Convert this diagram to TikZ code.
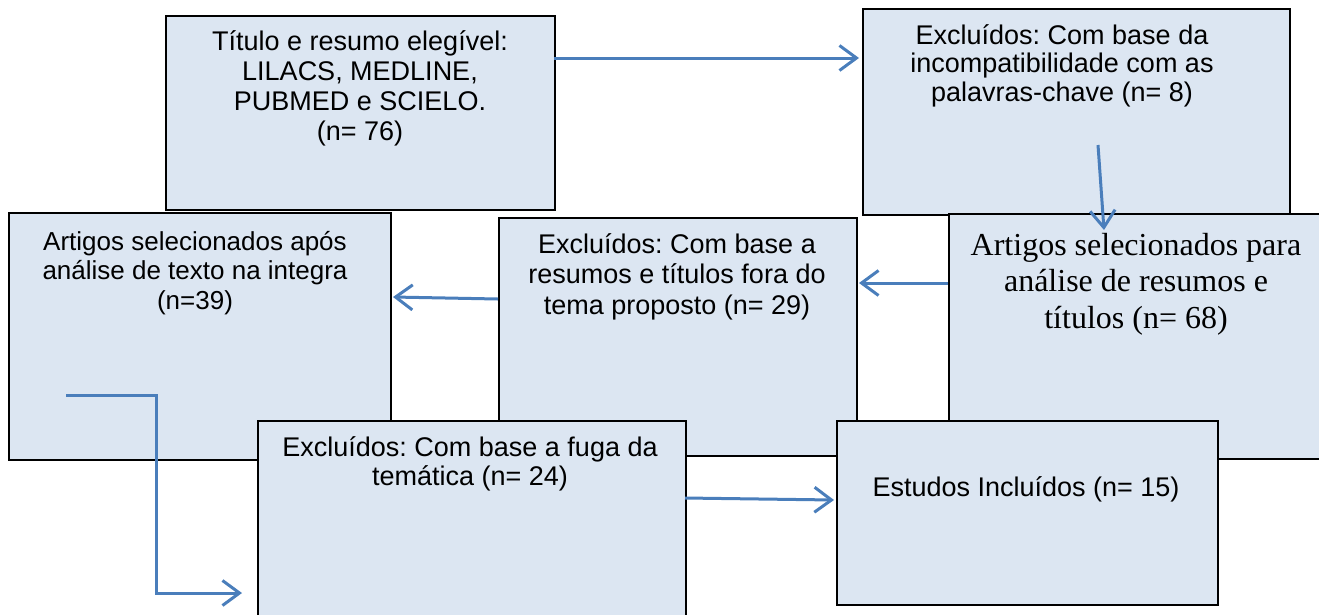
\documentclass[tikz,border=0pt]{standalone}
\usepackage{fontspec}
\setmainfont{Liberation Sans}
\newfontfamily\seriff{Liberation Serif}
\usetikzlibrary{arrows.meta}
\definecolor{boxfill}{HTML}{DCE6F2}
\definecolor{arrowblue}{HTML}{4A7EBB}
\frenchspacing
\begin{document}
\begin{tikzpicture}[x=1pt,y=-1pt,
  box/.style={draw=black, line width=2pt, fill=boxfill, anchor=north west, inner sep=0pt},
  lbl/.style={anchor=base, inner sep=0pt},
  conn/.style={draw=arrowblue, line width=3pt, -{Straight Barb[length=17pt,width=25pt]}}]
\useasboundingbox (0,0) rectangle (1319,614);
\newcommand{\sanstxt}[3][27]{\parbox[t]{420pt}{\centering\frenchspacing\fontsize{#1}{#2}\selectfont #3}}
% boxes
\node[box, minimum width=389pt, minimum height=194pt] (b1) at (165,15) {};
\node[box, minimum width=427pt, minimum height=206pt] (b2) at (862,8) {};
\node[box, minimum width=382pt, minimum height=247pt] (b3) at (8,212) {};
\node[box, minimum width=358pt, minimum height=238pt] (b4) at (498,217) {};
\node[box, minimum width=380pt, minimum height=245pt] (b5) at (948,213) {};
\node[box, minimum width=428pt, minimum height=200pt] (b6) at (257,420) {};
\node[box, minimum width=381pt, minimum height=184pt] (b7) at (836,420) {};
% labels
\node[lbl] (t1) at (360,50) {\sanstxt{30}{Título e resumo elegível:\\LILACS, MEDLINE,\\PUBMED e SCIELO.\\(n= 76)}};
\node[lbl] (t2) at (1062,44) {\sanstxt{28.5}{Excluídos: Com base da\\incompatibilidade com as\\palavras-chave (n= 8)}};
\node[lbl] (t3) at (195,250) {\sanstxt[26]{29.5}{Artigos selecionados após\\análise de texto na integra\\(n=39)}};
\node[lbl] (t4) at (677,253) {\sanstxt{30.5}{Excluídos: Com base a\\resumos e títulos fora do\\tema proposto (n= 29)}};
\node[lbl] (t5) at (1136,255) {\parbox[t]{420pt}{\centering\seriff\fontsize{32}{36.5}\selectfont Artigos selecionados para\\análise de resumos e\\títulos (n= 68)}};
\node[lbl] (t6) at (470,456) {\sanstxt{29}{Excluídos: Com base a fuga da\\temática (n= 24)}};
\node[lbl] (t7) at (1026,496) {\sanstxt{30}{Estudos Incluídos (n= 15)}};
% connector end points
\coordinate (a1s) at (554,58);  \coordinate (a1e) at (859,58);
\coordinate (a2s) at (1098,145); \coordinate (a2e) at (1104,230);
\coordinate (a3s) at (948,283); \coordinate (a3e) at (859,283);
\coordinate (a4s) at (498,299); \coordinate (a4e) at (393,297);
\coordinate (a5s) at (66,395);  \coordinate (a5m) at (156,395); \coordinate (a5e) at (242,593);
\coordinate (a6s) at (685,498); \coordinate (a6e) at (834,500);
% connectors
\draw[conn] (a1s) -- (a1e);
\draw[conn] (a2s) -- (a2e);
\draw[conn] (a3s) -- (a3e);
\draw[conn] (a4s) -- (a4e);
\draw[conn] (a5s) -- (a5m) |- (a5e);
\draw[conn] (a6s) -- (a6e);
\end{tikzpicture}
\end{document}
